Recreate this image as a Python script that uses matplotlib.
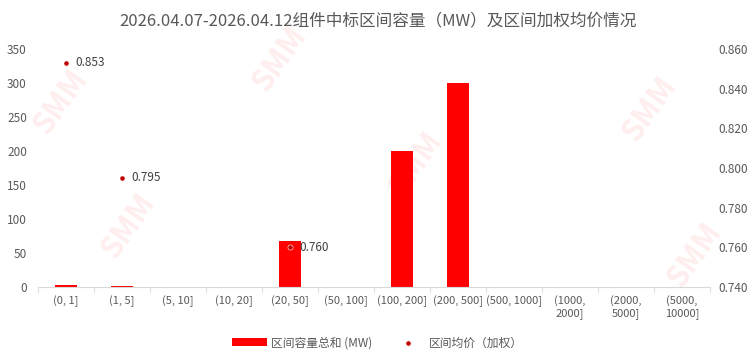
import matplotlib.pyplot as plt
import numpy as np

plt.rcParams['font.family'] = ['Noto Sans CJK SC', 'DejaVu Sans']

categories = ['(0, 1]', '(1, 5]', '(5, 10]', '(10, 20]', '(20, 50]', '(50, 100]',
              '(100, 200]', '(200, 500]', '(500, 1000]', '(1000,\n2000]',
              '(2000,\n5000]', '(5000,\n10000]']
capacity = [3, 1, 0, 0, 68, 0, 200, 300, 0, 0, 0, 0]
price_idx = [0, 1, 4]
price = [0.853, 0.795, 0.760]

gray = '#595959'
x = np.arange(len(categories))

fig = plt.figure(figsize=(7.55, 3.64), dpi=100)
ax = fig.add_axes([38/755, 1-287/364, (710-38)/755, 247/364])
ax2 = ax.twinx()

ax.bar(x, capacity, width=0.4, color='#FF0000', label='区间容量总和 (MW)', zorder=2)
ax2.scatter(x[price_idx], price, s=14, color='#C00000', edgecolors='white',
            linewidths=0.4, label='区间均价（加权）', zorder=3)
for i, p in zip(price_idx, price):
    ax2.annotate(f'{p:.3f}', (i, p), xytext=(7, 0), textcoords='offset points',
                 va='center', ha='left', fontsize=8.5, color='#404040')

ax.set_xlim(-0.5, len(categories) - 0.5)
ax.set_ylim(0, 363)
ax2.set_ylim(0.740, 0.8645)
ax.set_yticks(np.arange(0, 351, 50))
ax2.set_yticks(np.arange(0.74, 0.861, 0.02))
ax2.set_yticklabels([f'{v:.3f}' for v in np.arange(0.74, 0.861, 0.02)])
ax.set_xticks(x)
ax.set_xticklabels(categories)

for a in (ax, ax2):
    for s in a.spines.values():
        s.set_visible(False)
    a.tick_params(axis='y', length=0, labelsize=8.5, labelcolor=gray)
ax.spines['bottom'].set_visible(True)
ax.spines['bottom'].set_color('#D9D9D9')
ax.tick_params(axis='x', length=4, color='#D9D9D9', labelsize=8, labelcolor=gray, pad=6)
ax.set_xticks(np.arange(len(categories) + 1) - 0.5, minor=True)
ax.tick_params(axis='x', which='minor', length=4, color='#D9D9D9')
ax.tick_params(axis='x', which='major', length=0)
ax.tick_params(axis='y', pad=8)
ax2.tick_params(axis='y', pad=6)

# watermarks
for wx, wy in [(0.08, 0.72), (0.17, 0.38), (0.37, 0.84), (0.55, 0.55), (0.86, 0.70), (0.92, 0.30)]:
    fig.text(wx, wy, 'SMM', fontsize=22, fontweight='bold', color='#FF0000', alpha=0.07,
             rotation=55, ha='center', va='center')

fig.suptitle('2026.04.07-2026.04.12组件中标区间容量（MW）及区间加权均价情况',
             y=0.965, fontsize=12, color=gray)

h1, l1 = ax.get_legend_handles_labels()
h2, l2 = ax2.get_legend_handles_labels()
fig.legend(h1 + h2, l1 + l2, loc='center', bbox_to_anchor=(0.5, 0.058), ncol=2,
           frameon=False, fontsize=8.5, labelcolor=gray, handlelength=3.0,
           handleheight=0.7, handletextpad=0.3, columnspacing=1.5)

fig.savefig('out.png', dpi=100)
